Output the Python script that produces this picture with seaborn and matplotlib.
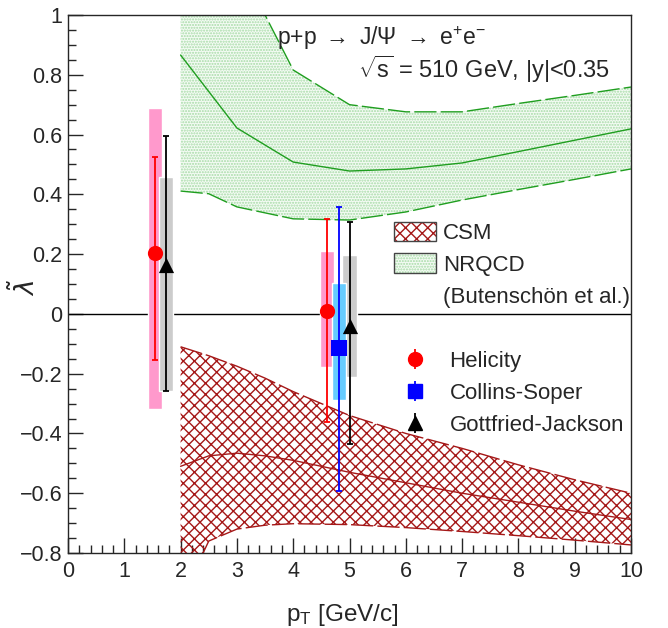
import numpy as np
import matplotlib
matplotlib.use("Agg")
import matplotlib.pyplot as plt
from matplotlib.patches import Patch
from matplotlib.lines import Line2D
from matplotlib.legend_handler import HandlerTuple
from matplotlib.ticker import MultipleLocator
import seaborn as sns

# --- data ---
# measured points: pT, lambda, stat errors (low/high edge), syst box (low/high edge)
hel_pt = [1.55, 4.60]
hel_lam = [0.204, 0.010]
hel_stat_lo = [-0.154, -0.361]
hel_stat_hi = [0.525, 0.318]
hel_sys_lo = [-0.318, -0.177]
hel_sys_hi = [0.689, 0.210]

cs_pt = [4.81]
cs_lam = [-0.114]
cs_stat_lo = [-0.592]
cs_stat_hi = [0.358]
cs_sys_lo = [-0.288]
cs_sys_hi = [0.104]

gj_pt = [1.74, 5.00]
gj_lam = [0.164, -0.040]
gj_stat_lo = [-0.257, -0.435]
gj_stat_hi = [0.595, 0.308]
gj_sys_lo = [-0.257, -0.211]
gj_sys_hi = [0.458, 0.197]

# NRQCD band (Butenschoen et al.)
nrqcd_pt = [2.0, 2.5, 3.0, 4.0, 5.0, 6.0, 7.0, 8.0, 9.0, 10.0]
nrqcd_up = [1.60, 1.39, 1.184, 0.816, 0.700, 0.676, 0.676, 0.704, 0.731, 0.759]
nrqcd_mid = [0.866, 0.744, 0.622, 0.508, 0.478, 0.485, 0.505, 0.543, 0.581, 0.619]
nrqcd_lo = [0.411, 0.402, 0.358, 0.318, 0.314, 0.341, 0.381, 0.416, 0.450, 0.485]

# CSM band
csm_pt = [2.0, 2.5, 3.0, 3.5, 4.0, 5.0, 6.0, 7.0, 8.0, 9.0, 10.0]
csm_up = [-0.110, -0.140, -0.175, -0.215, -0.260, -0.340, -0.400, -0.450, -0.505, -0.555, -0.600]
csm_mid = [-0.510, -0.475, -0.466, -0.475, -0.490, -0.530, -0.565, -0.600, -0.630, -0.660, -0.688]
csm_lo = [-0.960, -0.760, -0.720, -0.707, -0.702, -0.705, -0.715, -0.728, -0.742, -0.757, -0.773]

sns.set_style("ticks")
plt.rcParams["font.family"] = ["Liberation Sans", "DejaVu Sans"]
plt.rcParams["mathtext.fontset"] = "custom"
plt.rcParams["mathtext.rm"] = "Liberation Sans"
plt.rcParams["mathtext.it"] = "Liberation Sans:italic"
plt.rcParams["hatch.linewidth"] = 1.0

fig = plt.figure(figsize=(6.68, 6.28), dpi=100)
ax = fig.add_axes([68 / 668, 1 - 553 / 628, 563 / 668, 538 / 628])

green = "#1f9e1f"
dred = "#a51818"
dots = "#a6dba6"

# NRQCD band
ax.fill_between(nrqcd_pt, nrqcd_lo, nrqcd_up, facecolor="#f4fbf4", edgecolor=dots,
                hatch="......", linewidth=0, zorder=1)
sns.lineplot(x=nrqcd_pt, y=nrqcd_up, ax=ax, color=green, lw=1, dashes=(16, 3), zorder=2)
sns.lineplot(x=nrqcd_pt, y=nrqcd_mid, ax=ax, color=green, lw=1, zorder=2)
sns.lineplot(x=nrqcd_pt, y=nrqcd_lo, ax=ax, color=green, lw=1, dashes=(16, 3), zorder=2)

# CSM band
ax.fill_between(csm_pt, csm_lo, csm_up, facecolor="none", edgecolor=dred,
                hatch="xxx", linewidth=0, zorder=1)
sns.lineplot(x=csm_pt, y=csm_up, ax=ax, color=dred, lw=1, dashes=(16, 3), zorder=2)
sns.lineplot(x=csm_pt, y=csm_mid, ax=ax, color=dred, lw=1, zorder=2)
sns.lineplot(x=csm_pt, y=csm_lo, ax=ax, color=dred, lw=1, dashes=(16, 3), zorder=2)

ax.axhline(0, color="black", lw=1, zorder=2)

# systematic boxes
box_w = 0.25
ax.bar(hel_pt, np.subtract(hel_sys_hi, hel_sys_lo), bottom=hel_sys_lo, width=box_w,
       color="#ff99cc", zorder=3)
ax.bar(gj_pt, np.subtract(gj_sys_hi, gj_sys_lo), bottom=gj_sys_lo, width=box_w,
       color="#cccccc", zorder=3)
ax.bar(cs_pt, np.subtract(cs_sys_hi, cs_sys_lo), bottom=cs_sys_lo, width=box_w,
       color="#66ccff", zorder=3)


# points with stat errors
def draw_points(pt, lam, lo, hi, color, marker, size):
    yerr = [np.subtract(lam, lo), np.subtract(hi, lam)]
    ax.errorbar(pt, lam, yerr=yerr, fmt="none", ecolor=color, elinewidth=1.3,
                capsize=2, capthick=1.3, zorder=4)
    sns.scatterplot(x=pt, y=lam, color=color, marker=marker, s=size, linewidth=0,
                    ax=ax, zorder=5)


draw_points(hel_pt, hel_lam, hel_stat_lo, hel_stat_hi, "red", "o", 120)
draw_points(cs_pt, cs_lam, cs_stat_lo, cs_stat_hi, "blue", "s", 130)
draw_points(gj_pt, gj_lam, gj_stat_lo, gj_stat_hi, "black", "^", 120)

ax.set_xlim(0, 10)
ax.set_ylim(-0.8, 1.0)
ax.xaxis.set_major_locator(MultipleLocator(1))
ax.xaxis.set_minor_locator(MultipleLocator(0.2))
ax.yaxis.set_major_locator(MultipleLocator(0.2))
ax.yaxis.set_minor_locator(MultipleLocator(0.05))
ax.yaxis.set_major_formatter(plt.FuncFormatter(lambda v, p: f"{v:g}".replace("-", "\u2212")))
ax.tick_params(which="both", direction="in", top=False, right=False, labelsize=15.5, width=1)
ax.tick_params(which="major", length=11)
ax.tick_params(which="minor", length=5.5)
ax.tick_params(axis="x", pad=6)
ax.tick_params(axis="y", pad=4)
for s in ax.spines.values():
    s.set_linewidth(1)
ax.set_xlabel("p$_{\\mathregular{T}}$ [GeV/c]", fontsize=17.5)
ax.set_ylabel(r"$\tilde{\lambda}$", fontsize=19, math_fontfamily="dejavusans")
ax.xaxis.set_label_coords(0.487, -0.092)
ax.yaxis.set_label_coords(-0.05, 0.494)

ax.text(0.372, 0.957, r"p+p $\rightarrow$ J/$\Psi$ $\rightarrow$ e$^{+}$e$^{-}$",
        transform=ax.transAxes, fontsize=16.5, va="center", ha="left")
ax.text(0.963, 0.900, r"$\sqrt{\mathregular{s}}$ = 510 GeV, |y|<0.35",
        transform=ax.transAxes, fontsize=17, va="center", ha="right")

# legends
h_frame = Patch(facecolor="none", edgecolor="#444444", lw=1)
h_csm = (Patch(facecolor="white", edgecolor=dred, hatch="xxx", lw=0), h_frame)
h_nrqcd = (Patch(facecolor="#f4fbf4", edgecolor=dots, hatch="......", lw=0), h_frame)
h_none = Patch(facecolor="none", edgecolor="none")
leg1 = ax.legend([h_csm, h_nrqcd, h_none], ["CSM", "NRQCD", "(Butensch\u00f6n et al.)"],
                 handler_map={tuple: HandlerTuple(ndivide=1, pad=0)},
                 loc="upper left", bbox_to_anchor=(0.579, 0.616), frameon=False,
                 fontsize=16, handlelength=1.9, handleheight=1.0, handletextpad=0.3,
                 labelspacing=0.42, borderpad=0, borderaxespad=0)
ax.add_artist(leg1)

lh = []
for c, m, ms in [("red", "o", 10), ("blue", "s", 10), ("black", "^", 10)]:
    lh.append((Line2D([], [], color=c, marker="|", ms=15, mew=1.3, lw=0),
               Line2D([], [], color=c, marker=m, ms=ms, lw=0, mec=c)))
ax.legend(lh, ["Helicity", "Collins-Soper", "Gottfried-Jackson"],
          handler_map={tuple: HandlerTuple(ndivide=1, pad=0)},
          loc="upper left", bbox_to_anchor=(0.585, 0.376), frameon=False,
          fontsize=16, handlelength=1.6, handletextpad=0.75, labelspacing=0.5,
          borderpad=0, borderaxespad=0)

fig.savefig("out.png", dpi=100)
